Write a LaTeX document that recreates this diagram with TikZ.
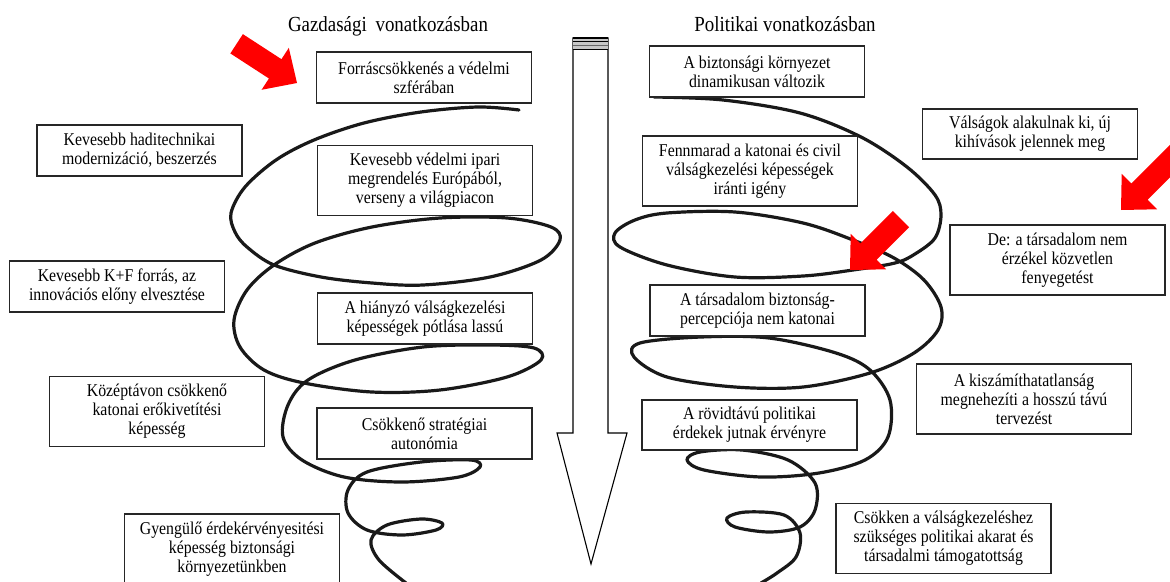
\documentclass[tikz,border=0pt]{standalone}
\usepackage{fontspec}
\setmainfont{Liberation Serif}[FakeStretch=0.88]
\begin{document}
\begin{tikzpicture}[x=1pt,y=-1pt,
  box/.style={draw=black!85, line width=1.1pt, fill=white, align=center, inner sep=0pt,
    minimum width=215, font=\fontsize{18}{19}\selectfont},
  two/.style={minimum height=51},
  three/.style={minimum height=70},
  titletext/.style={font=\fontsize{21.5}{23}\selectfont, inner sep=0pt, anchor=base},
  spiral/.style={line width=3.2pt, line cap=round, line join=round, black!90},
  redarrow/.pic={\fill[red] (0,0) -- (-26,-25) -- (-26,-11.5) -- (-72,-11.5) -- (-72,11.5) -- (-26,11.5) -- (-26,25) -- cycle;},
  longredarrow/.pic={\fill[red] (0,0) -- (-26,-25) -- (-26,-11.5) -- (-95,-11.5) -- (-95,11.5) -- (-26,11.5) -- (-26,25) -- cycle;}
]
\useasboundingbox (0,0) rectangle (1170,581);
\clip (0,0) rectangle (1170,581);

% big down arrow
\draw[line width=1.1pt, fill=white] (573,38) -- (608,38) -- (608,433) -- (627,433) -- (591,564) -- (557,433) -- (573,433) -- cycle;
\fill[gray!45] (573,38) rectangle (608,49);
\draw[line width=1pt] (573,41.5) -- (608,41.5);
\draw[line width=1pt, black!60] (573,45.5) -- (608,45.5);
\draw[line width=1pt] (573,49) -- (608,49);
\draw[line width=1.1pt] (573,38) -- (608,38);

% spirals
\draw[spiral] plot[smooth, tension=0.55] coordinates {
 (519,110) (478,107) (421,112) (364,123) (314,140) (276,160) (245,187) (231,213) (235,232)
 (247,247) (274,265) (321,277) (372,283) (423,285) (490,277) (541,260) (560,240) (551,227)
 (507,218) (440,218) (372,227) (315,243) (274,265) (247,290) (234,320) (240,347) (264,370)
 (304,383) (372,392) (440,390) (507,377) (541,360) (534,348) (490,345) (423,347) (355,360)
 (308,380) (288,405) (283,437) (302,460) (344,477) (402,482) (459,477) (480,467) (471,460)
 (421,462) (367,472) (348,490) (348,513) (367,530) (402,535) (436,530) (442,523) (421,519)
 (387,525) (371,540) (379,560) (406,583)};
\draw[spiral] plot[smooth, tension=0.55] coordinates {
 (654,97) (723,100) (800,113) (861,137) (907,167) (935,195) (941,215) (935,238) (915,254)
 (895,263) (853,270) (803,276) (735,277) (667,265) (620,247) (615,233) (635,220) (667,213)
 (735,212) (803,223) (853,240) (894,258) (924,280) (941,307) (938,330) (914,353) (870,373)
 (803,387) (735,387) (667,377) (634,357) (640,343) (701,337) (769,338) (836,353) (870,370)
 (890,400) (888,437) (865,460) (819,473) (761,477) (704,470) (687,460) (700,452) (742,450)
 (788,460) (815,483) (815,510) (800,527) (769,532) (735,527) (727,518) (746,512) (784,515)
 (800,533) (796,557) (777,573) (761,583)};

% titles
\node[titletext] (tgaz) at (388,31) {Gazdasági\hspace{4pt} vonatkozásban};
\node[titletext] (tpol) at (785,31) {Politikai vonatkozásban};

% left boxes
\node[box, two] (l1) at (424,77.5) {Forráscsökkenés a védelmi\\szférában};
\node[box, two, minimum width=205] (l2) at (139.5,150.5) {Kevesebb haditechnikai\\modernizáció, beszerzés};
\node[box, three] (l3) at (425,180.5) {Kevesebb védelmi ipari\\megrendelés Európából,\\verseny a világpiacon};
\node[box, two] (l4) at (117,286.5) {Kevesebb K+F forrás, az\\innovációs előny elvesztése};
\node[box, two] (l5) at (425,318.5) {A hiányzó válságkezelési\\képességek pótlása lassú};
\node[box, three] (l6) at (157,411.5) {Középtávon csökkenő\\katonai erőkivetítési\\képesség};
\node[box, two] (l7) at (424.5,433.5) {Csökkenő stratégiai\\autonómia};
\node[box, three] (l8) at (232,549) {Gyengülő érdekérvényesitési\\képesség biztonsági\\környezetünkben};

% right boxes
\node[box, two] (r1) at (757,71.5) {A biztonsági környezet\\dinamikusan változik};
\node[box, two, minimum height=50] (r2) at (1030,134) {Válságok alakulnak ki, új\\kihívások jelennek meg};
\node[box, three] (r3) at (750,171) {Fennmarad a katonai és civil\\válságkezelési képességek\\iránti igény};
\node[box, three] (r4) at (1057.5,260) {De: a társadalom nem\\érzékel közvetlen\\fenyegetést};
\node[box, two] (r5) at (757.5,310.5) {A társadalom biztonság-\\percepciója nem katonai};
\node[box, three] (r6) at (1024,399) {A kiszámíthatatlanság\\megnehezíti a hosszú távú\\tervezést};
\node[box, two, minimum height=50] (r7) at (749.5,425) {A rövidtávú politikai\\érdekek jutnak érvényre};
\node[box, three] (r8) at (943.5,538.5) {Csökken a válságkezeléshez\\szükséges politikai akarat és\\társadalmi támogatottság};

% red arrows
\pic[rotate=-33] at (297,83) {redarrow};
\pic[rotate=-135] at (850,270) {redarrow};
\pic[rotate=-135] at (1121,210) {longredarrow};
\end{tikzpicture}
\end{document}
